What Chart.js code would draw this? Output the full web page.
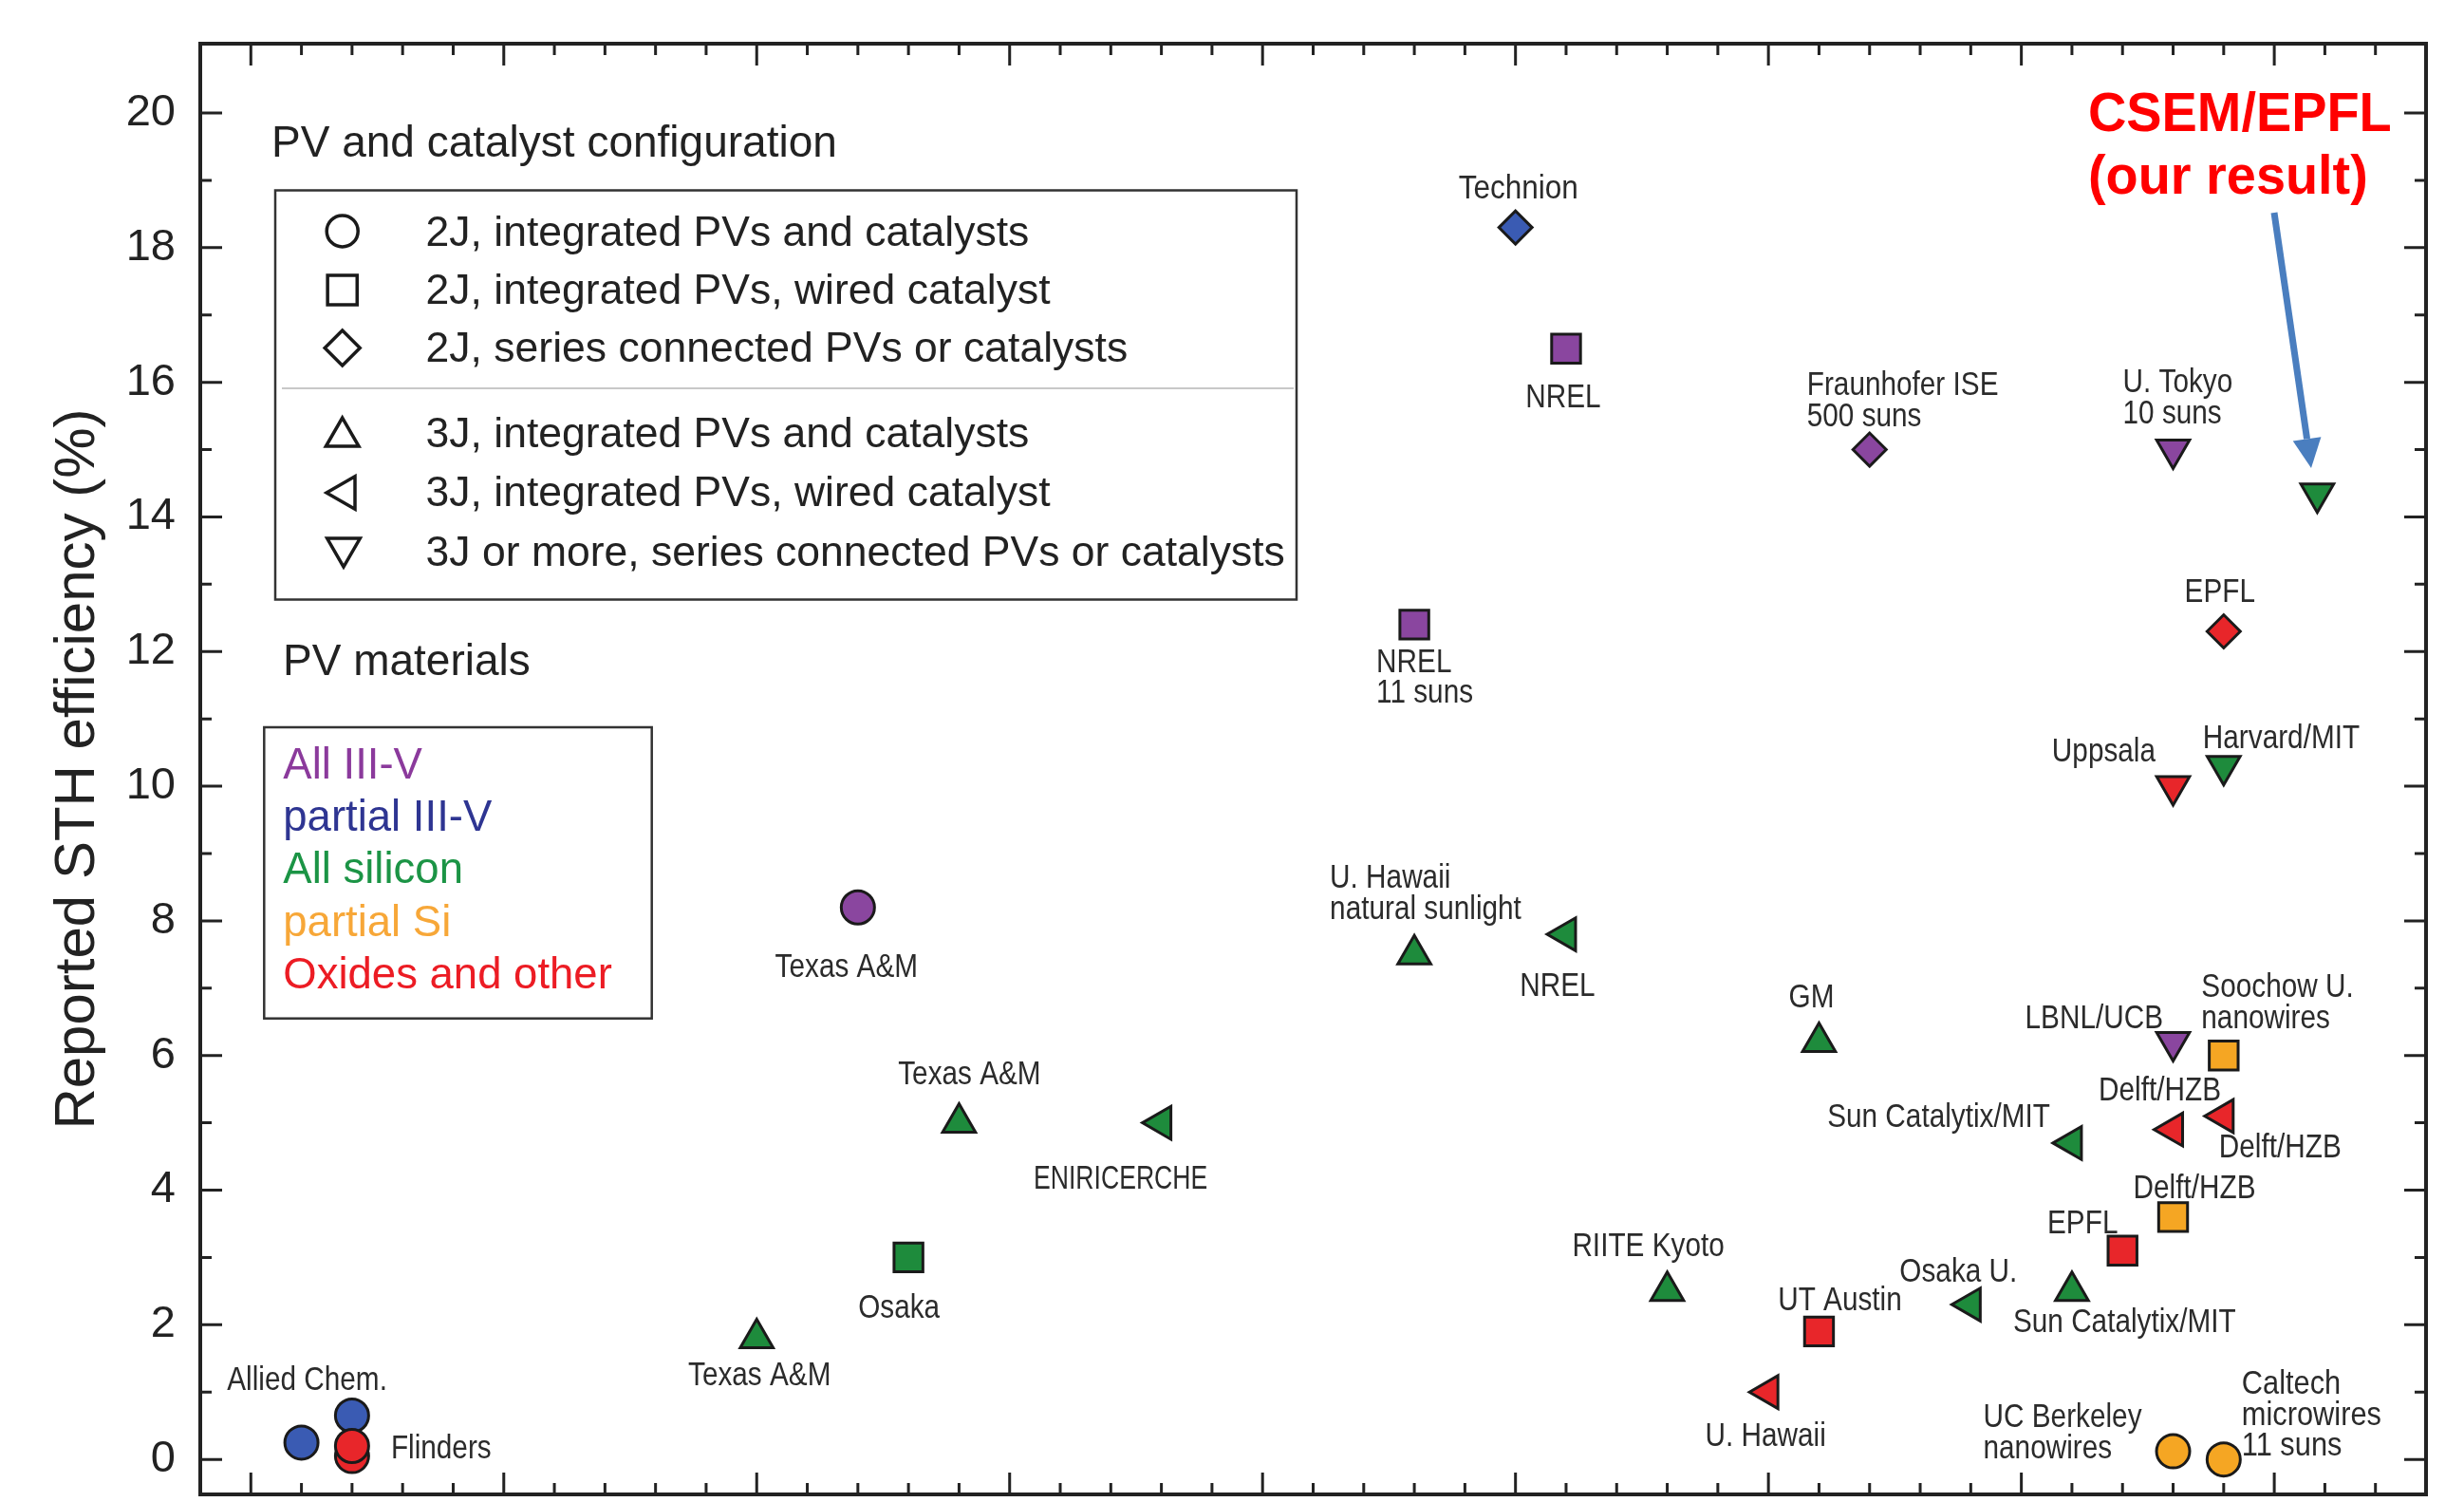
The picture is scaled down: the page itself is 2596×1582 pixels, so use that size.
<!DOCTYPE html>
<html>
<head>
<meta charset="utf-8">
<script src="https://cdn.jsdelivr.net/npm/chart.js@4.4.1/dist/chart.umd.min.js"></script>
<style>
  html, body { margin: 0; padding: 0; background: #ffffff; }
  #wrap { width: 2596px; height: 1582px; }
</style>
</head>
<body>
<div id="wrap"><canvas id="c" width="2596" height="1582"></canvas></div>
<script>
// ---------------- DATA ----------------
const institutions = [
  "Allied Chem.", "", "", "Flinders", "Texas A&M", "Texas A&M", "Osaka", "Texas A&M",
  "ENIRICERCHE", "U. Hawaii\nnatural sunlight", "NREL\n11 suns", "Technion", "NREL", "NREL",
  "RIITE Kyoto", "U. Hawaii", "GM", "UT Austin", "Fraunhofer ISE\n500 suns", "Osaka U.",
  "Sun Catalytix/MIT", "Sun Catalytix/MIT", "EPFL", "U. Tokyo\n10 suns", "Uppsala", "LBNL/UCB",
  "Delft/HZB", "Delft/HZB", "UC Berkeley\nnanowires", "EPFL", "Harvard/MIT",
  "Soochow U.\nnanowires", "Delft/HZB", "Caltech\nmicrowires\n11 suns", ""
];
const years = [
  1976, 1977, 1977, 1977, 1985, 1987, 1988, 1989,
  1993, 1998, 1998, 2000, 2001, 2001,
  2003, 2005, 2006, 2006, 2007, 2009,
  2011, 2011, 2012, 2013, 2013, 2013,
  2013, 2013, 2013, 2014, 2014,
  2014, 2014, 2014, 2015.85
];
const efficiencies = [
  0.25, 0.05, 0.65, 0.2, 1.8, 8.2, 3.0, 5.0,
  5.0, 7.5, 12.4, 18.3, 16.5, 7.8,
  2.5, 1.0, 6.2, 1.9, 15.0, 2.3,
  4.7, 2.5, 3.1, 15.0, 10.0, 6.2,
  4.9, 3.6, 0.12, 12.3, 10.3,
  6.0, 5.1, 0.0, 14.35
];
// 0 circle, 1 square, 2 diamond, 3 up-triangle, 4 left-triangle, 5 down-triangle
const configIndex = [
  0, 0, 0, 0, 3, 0, 1, 3,
  4, 3, 1, 2, 1, 4,
  3, 4, 3, 1, 2, 4,
  4, 3, 1, 5, 5, 5,
  4, 1, 0, 2, 5,
  1, 4, 0, 5
];
// 0 All III-V, 1 partial III-V, 2 All silicon, 3 partial Si, 4 Oxides and other
const materialIndex = [
  1, 4, 1, 4, 2, 0, 2, 2,
  2, 2, 0, 1, 0, 2,
  2, 4, 2, 4, 0, 2,
  2, 2, 4, 0, 4, 0,
  4, 3, 3, 4, 2,
  3, 4, 3, 2
];
const configNames = [
  "2J, integrated PVs and catalysts",
  "2J, integrated PVs, wired catalyst",
  "2J, series connected PVs or catalysts",
  "3J, integrated PVs and catalysts",
  "3J, integrated PVs, wired catalyst",
  "3J or more, series connected PVs or catalysts"
];
const materialNames = ["All III-V", "partial III-V", "All silicon", "partial Si", "Oxides and other"];
const yTickValues = [0, 2, 4, 6, 8, 10, 12, 14, 16, 18, 20];
const xMinorTickYears = [];
for (let yr = 1975; yr <= 2017; yr++) xMinorTickYears.push(yr);
const yAxisTitle = "Reported STH efficiency (%)";
const highlightText = ["CSEM/EPFL", "(our result)"];
const configTitle = "PV and catalyst configuration";
const materialsTitle = "PV materials";

// ---------------- STYLE / LAYOUT ----------------
const FONT = "'Liberation Sans', Arial, Helvetica, sans-serif";
const materialFill = ["#8a469f", "#3a5bb3", "#1e8b3c", "#f5a623", "#e8262a"];
const materialText = ["#8b3a9c", "#2e3592", "#1b9445", "#f7a738", "#ec1c24"];
const shapeStyles = [
  { pointStyle: "circle",   rotation: 0,   radius: 17.5 },
  { pointStyle: "rect",     rotation: 0,   radius: 21.5 },
  { pointStyle: "rectRot",  rotation: 0,   radius: 17.5 },
  { pointStyle: "triangle", rotation: 0,   radius: 20 },
  { pointStyle: "triangle", rotation: -90, radius: 20 },
  { pointStyle: "triangle", rotation: 180, radius: 20 }
];
// label anchor offsets relative to the marker centre: [dx, dy, align, xscale]
const labelPlacement = [
  [6, -65, "center"], null, null, [41, 3, "left"], [3, 40, "center"], [-12, 64, "center"],
  [-10, 54, "center"], [11, -50, "center"],
  [-43, 60, "center", 0.76], [-89, -80, "left"], [-40, 40, "left"], [3, -40, "center", 0.9],
  [-3, 52, "center"], [-9, 55, "center"],
  [-20, -47, "center"], [-3, 47, "center"], [-8, -46, "center"], [22, -32, "center"],
  [-66, -67.5, "left"], [-13, -34, "center"],
  [-23, -27, "right"], [-62, 33, "left"], [-42, -28, "center"], [-53, -70, "left"],
  [-18.5, -35.5, "right"], [-10.5, -24, "right"],
  [-14, -40, "center"], [22.5, -30, "center"], [-200, -35, "left"], [-4, -41, "center"],
  [-22, -28, "left"],
  [-23.5, -71, "left"], [-5, 34, "left"], [19, -79, "left", 0.88], null
];
const LABEL_LINE = 32.8;

// ---------------- DATASETS ----------------
const datasetIndexMap = [];
const datasets = configNames.map((name, ci) => {
  const idx = years.map((_, i) => i).filter(i => configIndex[i] === ci);
  datasetIndexMap.push(idx);
  return {
    label: name,
    data: idx.map(i => ({ x: years[i], y: efficiencies[i] })),
    pointStyle: shapeStyles[ci].pointStyle,
    pointRotation: shapeStyles[ci].rotation,
    pointRadius: shapeStyles[ci].radius,
    pointHoverRadius: shapeStyles[ci].radius,
    pointBackgroundColor: idx.map(i => materialFill[materialIndex[i]]),
    pointBorderColor: "#1a1a1a",
    pointBorderWidth: 3,
    showLine: false
  };
});

// ---------------- HELPERS ----------------
function drawText(ctx, txt, x, y, align, font, color, sx) {
  ctx.save();
  ctx.translate(x, y);
  ctx.scale(sx || 1, 1);
  ctx.font = font;
  ctx.fillStyle = color;
  ctx.textAlign = align;
  ctx.textBaseline = "middle";
  ctx.fillText(txt, 0, 0);
  ctx.restore();
}
function drawShape(ctx, style, x, y, radius, lw) {
  ctx.save();
  ctx.lineWidth = lw;
  ctx.strokeStyle = "#1a1a1a";
  ctx.fillStyle = "rgba(0,0,0,0)";
  if (Chart.helpers && Chart.helpers.drawPoint) {
    Chart.helpers.drawPoint(ctx, { pointStyle: style.pointStyle, rotation: style.rotation, radius: radius, borderWidth: lw }, x, y);
  } else {
    ctx.beginPath();
    ctx.arc(x, y, radius, 0, Math.PI * 2);
    ctx.stroke();
  }
  ctx.restore();
}

const annotPlugin = {
  id: "annot",
  afterDatasetsDraw(chart) {
    const ctx = chart.ctx;
    const labelFont = "35px " + FONT;
    datasetIndexMap.forEach((idx, d) => {
      const meta = chart.getDatasetMeta(d);
      meta.data.forEach((el, j) => {
        const i = idx[j];
        const txt = institutions[i];
        const pl = labelPlacement[i];
        if (!txt || !pl) return;
        txt.split("\n").forEach((line, k) => {
          drawText(ctx, line, el.x + pl[0], el.y + pl[1] + k * LABEL_LINE, pl[2], labelFont, "#2b2b2b", pl[3] || 0.85);
        });
      });
    });
  },
  afterDraw(chart) {
    const ctx = chart.ctx;
    const a = chart.chartArea;
    const xs = chart.scales.x, ys = chart.scales.y;
    ctx.save();
    // frame
    ctx.strokeStyle = "#222";
    ctx.lineWidth = 4;
    ctx.strokeRect(a.left, a.top, a.right - a.left, a.bottom - a.top);
    // x ticks (inward, top and bottom)
    ctx.lineWidth = 3;
    ctx.beginPath();
    xMinorTickYears.forEach(yr => {
      const px = xs.getPixelForValue(yr);
      const len = (yr % 5 === 0) ? 23 : 12;
      ctx.moveTo(px, a.bottom); ctx.lineTo(px, a.bottom - len);
      ctx.moveTo(px, a.top); ctx.lineTo(px, a.top + len);
    });
    // y ticks (inward, left and right)
    for (let v = 0; v <= 20; v++) {
      const py = ys.getPixelForValue(v);
      const len = (v % 2 === 0) ? 23 : 12;
      ctx.moveTo(a.left, py); ctx.lineTo(a.left + len, py);
      ctx.moveTo(a.right, py); ctx.lineTo(a.right - len, py);
    }
    ctx.stroke();
    ctx.restore();

    // ---- configuration legend ----
    drawText(ctx, configTitle, 286, 152, "left", "46px " + FONT, "#222");
    ctx.save();
    ctx.strokeStyle = "#333";
    ctx.lineWidth = 2.5;
    ctx.strokeRect(290, 200.5, 1076, 431);
    ctx.strokeStyle = "#c8c8c8";
    ctx.lineWidth = 2;
    ctx.beginPath(); ctx.moveTo(297, 409); ctx.lineTo(1363, 409); ctx.stroke();
    ctx.restore();
    const rowY = [246.5, 307.5, 369, 458.5, 521, 584];
    const symPos = [[360.7, 243.4, 16.5], [360.7, 305.5, 22], [360.7, 366.5, 18.5],
                    [360.7, 460, 20], [364, 519, 20], [362, 577, 20]];
    configNames.forEach((name, ci) => {
      drawShape(ctx, shapeStyles[ci], symPos[ci][0], symPos[ci][1], symPos[ci][2], 3.5);
      drawText(ctx, name, 448.6, rowY[ci], "left", "44.5px " + FONT, "#222");
    });

    // ---- materials legend ----
    drawText(ctx, materialsTitle, 298, 698, "left", "46px " + FONT, "#222");
    ctx.save();
    ctx.strokeStyle = "#333";
    ctx.lineWidth = 2.5;
    ctx.strokeRect(278.3, 766, 408.4, 306.7);
    ctx.restore();
    const matY = [807, 862, 917, 973, 1028];
    materialNames.forEach((m, k) => drawText(ctx, m, 298.3, matY[k], "left", "45.5px " + FONT, materialText[k]));

    // ---- highlight text & arrow ----
    drawText(ctx, highlightText[0], 2200, 122, "left", "bold 57px " + FONT, "#ff0000", 0.98);
    drawText(ctx, highlightText[1], 2200, 188, "left", "bold 57px " + FONT, "#ff0000", 0.98);
    const lastIdx = years.length - 1;
    const ci = configIndex[lastIdx];
    const el = chart.getDatasetMeta(ci).data[datasetIndexMap[ci].indexOf(lastIdx)];
    if (el) {
      const tipX = el.x - 6.4, tipY = el.y - 26.6;
      const tailX = el.x - 45.4, tailY = el.y - 295.6;
      const ang = Math.atan2(tipY - tailY, tipX - tailX);
      const headLen = 31, headHalf = 15;
      const bx = tipX - Math.cos(ang) * headLen, by = tipY - Math.sin(ang) * headLen;
      ctx.save();
      ctx.strokeStyle = "#4a7ebf";
      ctx.fillStyle = "#4a7ebf";
      ctx.lineWidth = 7;
      ctx.beginPath(); ctx.moveTo(tailX, tailY); ctx.lineTo(bx, by); ctx.stroke();
      ctx.beginPath();
      ctx.moveTo(tipX, tipY);
      ctx.lineTo(bx + Math.sin(ang) * headHalf, by - Math.cos(ang) * headHalf);
      ctx.lineTo(bx - Math.sin(ang) * headHalf, by + Math.cos(ang) * headHalf);
      ctx.closePath(); ctx.fill();
      ctx.restore();
    }
  }
};

Chart.defaults.font.family = FONT;
new Chart(document.getElementById("c"), {
  type: "scatter",
  data: { datasets },
  options: {
    responsive: false,
    animation: false,
    devicePixelRatio: 1,
    events: [],
    layout: { autoPadding: false, padding: { top: 46, right: 40, bottom: 8, left: 0 } },
    plugins: { legend: { display: false }, tooltip: { enabled: false } },
    scales: {
      x: { type: "linear", display: false, min: 1974, max: 2018 },
      y: {
        type: "linear", position: "left", min: -0.52, max: 21.03,
        grid: { display: false, drawTicks: false },
        border: { display: false },
        ticks: { font: { family: FONT, size: 47 }, color: "#222", padding: 26 },
        afterBuildTicks: s => { s.ticks = yTickValues.map(v => ({ value: v })); },
        afterFit: s => { s.width = 211; s.paddingTop = 0; s.paddingBottom = 0; },
        title: { display: true, text: yAxisTitle, color: "#222", font: { family: FONT, size: 60 }, padding: { top: 46, bottom: 0 } }
      }
    }
  },
  plugins: [annotPlugin]
});
</script>
</body>
</html>
